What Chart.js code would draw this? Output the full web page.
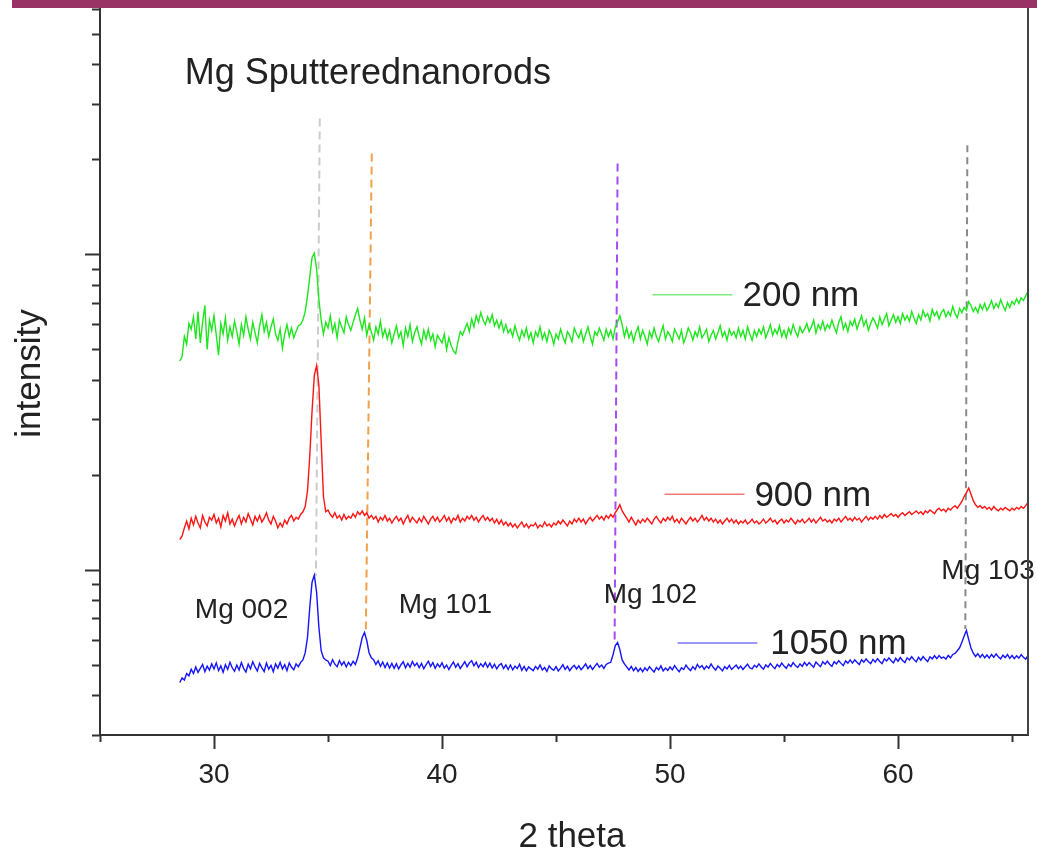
<!DOCTYPE html>
<html>
<head>
<meta charset="utf-8">
<script src="https://cdn.jsdelivr.net/npm/chart.js@4.4.0/dist/chart.umd.min.js"></script>
<style>
  html, body { margin:0; padding:0; background:#fff; }
  #wrap { position:relative; width:1037px; height:852px; }
  #bar { position:absolute; left:12px; top:0; width:1025px; height:8px; background:#993366; }
  canvas { position:absolute; left:0; top:0; }
</style>
</head>
<body>
<div id="wrap"><canvas id="c" width="1037" height="852"></canvas><div id="bar"></div></div>
<script>
// 2 theta sampling grid, 28.5 .. 65.8 in 0.1 steps
const theta = Array.from({length: 374}, (_, i) => (285 + i) / 10);

// intensity, 200 nm film
const green200 = [
  46.0, 47.5, 55.0, 52.0, 60.5,
  58.0, 63.5, 54.0, 66.0, 52.5, 61.0, 69.0, 50.0, 62.0, 57.5,
  64.0, 55.5, 48.0, 60.5, 56.0, 63.0, 53.5, 59.0, 55.0, 61.5,
  57.0, 52.0, 60.0, 55.5, 63.5, 58.0, 54.0, 61.0, 56.5, 52.5,
  59.5, 64.5, 57.0, 61.0, 55.0, 59.0, 62.5, 56.0, 53.5, 58.0,
  50.5, 56.0, 60.0, 55.0, 58.5, 54.5, 57.0, 59.5, 60.0, 62.0,
  66.0, 74.0, 85.0, 98.0, 101.0, 90.0, 72.0, 62.0, 56.0, 61.0,
  58.5, 64.0, 57.0, 60.5, 54.5, 62.0, 59.0, 56.5, 63.5, 60.0,
  57.5, 61.0, 64.5, 67.5, 62.0, 58.0, 63.0, 55.5, 60.0, 57.0,
  53.5, 59.0, 56.0, 61.5, 55.0, 58.0, 54.0, 57.5, 52.5, 56.0,
  59.5, 54.5, 57.0, 51.5, 58.5, 55.0, 60.0, 53.0, 56.5, 59.0,
  55.0, 52.0, 57.5, 54.0, 58.0, 53.5, 56.0, 51.0, 55.5, 54.0,
  52.5, 56.0, 50.0, 54.5, 51.5, 49.5, 48.5, 53.0, 57.0, 55.5,
  58.0, 60.5, 57.0, 62.5, 59.0, 64.0, 61.0, 65.5, 62.0, 60.0,
  63.5, 61.0, 64.5, 59.5, 62.0, 58.5, 61.5, 57.0, 60.0, 56.5,
  58.0, 55.0, 59.5, 56.0, 53.5, 57.5, 55.0, 58.5, 54.0, 56.5,
  52.5, 57.0, 55.0, 59.0, 54.0, 56.5, 53.0, 57.5, 55.5, 52.0,
  56.0, 54.0, 58.0, 55.0, 52.5, 57.0, 55.5, 53.0, 58.5, 56.0,
  54.5, 57.5, 53.0, 56.0, 59.0, 55.0, 52.0, 57.0, 55.5, 58.5,
  56.0, 53.5, 58.0, 55.0, 57.5, 54.0, 59.0, 61.0, 64.0, 60.0,
  55.0, 58.5, 54.5, 57.0, 53.0, 56.5, 59.0, 54.0, 57.5, 55.0,
  52.0, 57.0, 54.5, 58.5, 55.0, 53.0, 56.5, 59.5, 54.0, 57.0,
  55.5, 53.0, 58.0, 56.0, 54.0, 57.5, 52.5, 55.0, 58.5, 56.5,
  53.5, 57.0, 55.0, 59.0, 54.5, 56.0, 58.0, 53.0, 55.5, 57.5,
  54.0, 56.5, 59.5, 55.0, 57.0, 53.5, 58.0, 55.5, 57.0, 54.5,
  58.5, 55.0, 57.5, 54.0, 59.0, 56.0, 53.5, 57.5, 55.0, 58.0,
  56.0, 59.0, 54.5, 57.0, 60.0, 55.5, 58.0, 56.0, 59.5, 55.0,
  57.5, 54.5, 58.5, 56.0, 60.0, 57.0, 55.0, 59.0, 56.5, 58.0,
  60.5, 57.0, 59.0, 62.0, 56.5, 60.0, 58.0, 61.5, 57.5, 60.0,
  58.5, 62.0, 59.0, 56.5, 61.0, 63.5, 58.0, 60.5, 57.0, 61.5,
  59.5, 62.5, 58.0, 61.0, 64.0, 59.5, 62.0, 57.5, 60.5, 63.0,
  61.0, 58.5, 63.5, 60.0, 62.5, 65.0, 59.5, 62.0, 64.5, 61.0,
  63.5, 60.5, 65.0, 62.0, 64.0, 61.5, 66.0, 63.0, 60.5, 64.5,
  62.0, 66.5, 63.5, 65.0, 61.5, 67.0, 64.0, 66.0, 62.5, 65.5,
  67.0, 63.5, 66.0, 64.0, 68.5, 65.0, 63.0, 67.5, 65.5, 68.0,
  66.5, 71.0, 69.0, 66.0, 68.0, 65.5, 69.5, 67.0, 70.0, 66.5,
  68.5, 71.5, 67.5, 70.0, 68.0, 72.0, 69.0, 66.5, 70.5, 68.0,
  71.0, 69.5, 72.5, 70.0, 73.0, 71.5, 74.0, 76.5, 78.0
];

// intensity, 900 nm film
const red900 = [
  12.5, 12.8, 13.6, 14.3, 13.5,
  14.6, 13.9, 14.8, 14.1, 13.6, 14.9, 14.2, 13.8, 14.7, 14.4,
  15.0, 14.1, 14.6, 13.7, 14.9, 14.3, 15.2, 14.0, 14.5, 13.8,
  14.4, 14.9, 14.0, 14.7, 14.2, 15.1, 14.5, 13.9, 14.8, 14.3,
  14.9, 14.2, 14.6, 15.2, 14.4, 14.0, 14.8, 14.3, 13.6, 14.1,
  13.7, 14.4, 14.0, 14.6, 14.9, 14.3, 14.7, 14.5, 15.0, 15.3,
  15.9, 17.8, 23.0, 31.9, 41.4, 44.5, 38.5, 25.6, 17.1, 15.3,
  15.5, 15.0, 14.7, 15.2, 14.6, 14.9, 14.4, 15.0, 14.5, 14.8,
  14.6, 15.1, 14.7, 15.3, 15.0, 15.4, 14.9, 15.2, 14.6, 14.9,
  14.5, 14.8, 14.2, 14.7, 14.4, 14.9, 14.3, 14.6, 14.1, 14.5,
  14.8, 14.3, 14.6, 14.0, 14.5, 14.9, 14.2, 14.7, 14.4, 14.1,
  14.6, 14.2, 14.8, 14.4, 14.0, 14.5, 14.8, 14.3, 14.7, 14.2,
  14.5, 14.9, 14.3, 14.7, 14.1, 14.6, 14.4, 14.9, 14.2, 14.6,
  14.3, 14.8, 14.5, 14.9, 14.4, 14.7, 14.2, 14.6, 14.9, 14.4,
  14.7, 14.3, 14.6, 14.1, 14.5, 14.0, 14.4, 13.9, 14.2, 13.8,
  14.1, 13.7, 14.0, 13.6, 13.9, 14.2, 13.7, 14.0, 13.6, 13.9,
  13.8, 14.1, 13.6, 13.9, 13.7, 14.2, 13.8, 14.0, 13.7, 14.1,
  13.9, 14.3, 14.0, 14.4, 14.1, 13.8, 14.3, 14.0, 14.5, 14.2,
  14.6, 14.2, 14.5, 14.0, 14.4, 14.7, 14.3, 14.6, 14.9, 14.5,
  14.8, 14.4, 14.9, 14.6, 15.0, 14.7, 15.2, 15.6, 16.1, 15.4,
  15.0, 14.6, 14.2, 14.7, 14.3, 13.9, 14.4, 14.1, 14.5, 14.2,
  14.6, 14.3, 14.0, 14.5, 14.8, 14.4, 14.1, 14.6, 14.3, 14.7,
  14.4, 14.8, 14.2, 14.5, 14.1, 14.6, 14.3, 14.0, 14.4, 14.7,
  14.3, 14.6, 14.2, 14.5, 14.9, 14.4, 14.7, 14.3, 14.6, 14.2,
  14.5, 14.1, 14.4, 14.0, 14.3, 14.6, 14.2, 14.5, 14.1, 14.4,
  14.0, 14.3, 14.1, 14.4, 14.0, 14.2, 14.5, 14.1, 14.3, 14.0,
  14.2, 14.5, 14.1, 14.3, 14.6, 14.2, 14.4, 14.0, 14.3, 14.5,
  14.1, 14.4, 14.2, 14.6, 14.3, 14.0, 14.4, 14.2, 14.5, 14.1,
  14.3, 14.6, 14.2, 14.5, 14.1, 14.4, 14.7, 14.3, 14.5, 14.2,
  14.4, 14.1, 14.5, 14.3, 14.6, 14.2, 14.5, 14.8, 14.4, 14.6,
  14.3, 14.7, 14.4, 14.6, 14.2, 14.5, 14.8, 14.4, 14.7, 14.5,
  14.8, 14.5, 14.9, 14.6, 15.0, 14.7, 14.9, 15.1, 14.8, 15.0,
  14.7, 15.0, 15.2, 14.9, 15.1, 15.3, 15.0, 15.2, 15.4, 15.1,
  15.3, 15.0, 15.4, 15.2, 15.5, 15.3, 15.1, 15.5, 15.7, 15.4,
  15.6, 15.3, 15.7, 15.5, 15.8, 16.0, 15.7, 16.1, 16.5, 17.1,
  17.6, 18.2, 17.4, 16.6, 16.1, 15.8, 16.0, 15.7, 15.9, 15.6,
  15.8, 15.5, 15.9, 15.6, 15.4, 15.7, 15.5, 15.8, 15.6, 15.4,
  15.7, 15.5, 15.8, 15.6, 15.9, 15.7, 16.0, 16.4, 16.9
];

// intensity, 1050 nm film
const blue1050 = [
  4.40, 4.55, 4.48, 4.70, 4.62,
  4.85, 4.70, 4.93, 4.74, 4.88, 5.02, 4.76, 4.96, 4.82, 5.04,
  4.86, 5.08, 4.80, 4.97, 4.74, 5.01, 4.84, 5.10, 4.90, 4.78,
  5.00, 4.82, 5.09, 4.88, 4.75, 5.03, 4.86, 5.12, 4.93, 4.79,
  5.06, 4.90, 4.77, 5.07, 4.85, 4.99, 4.76, 5.04, 4.88, 5.10,
  4.86, 5.01, 4.80, 5.08, 4.92, 4.83, 5.04, 4.94, 5.10, 5.19,
  5.47, 6.11, 7.62, 9.15, 9.64, 8.50, 6.58, 5.55, 5.27, 5.19,
  5.14, 4.98, 5.20, 5.03, 4.94, 5.17, 5.00, 5.12, 4.93, 5.10,
  4.98, 5.14, 5.02, 5.27, 5.67, 6.11, 6.34, 5.98, 5.47, 5.27,
  5.20, 5.02, 5.16, 4.95, 5.11, 4.91, 5.08, 4.89, 5.06, 4.88,
  5.05, 4.86, 5.01, 5.12, 4.90, 5.06, 4.92, 5.13, 4.97, 5.07,
  4.90, 5.06, 4.87, 5.01, 5.14, 4.95, 5.09, 4.88, 5.04, 4.93,
  5.08, 4.89, 5.00, 4.84, 4.99, 5.11, 4.92, 5.05, 4.87, 5.00,
  5.12, 4.94, 5.08, 5.16, 4.97, 5.10, 4.91, 5.05, 4.94, 5.09,
  4.92, 5.07, 4.89, 5.03, 4.86, 4.99, 5.05, 4.87, 5.00, 4.84,
  5.00, 4.83, 4.96, 4.87, 5.03, 4.81, 4.95, 4.79, 4.93, 4.86,
  4.80, 4.95, 4.85, 5.00, 4.82, 4.91, 4.77, 4.97, 4.87, 4.81,
  4.94, 4.79, 4.89, 5.01, 4.84, 4.95, 4.80, 4.91, 4.99, 4.86,
  4.97, 4.83, 4.93, 5.04, 4.87, 4.98, 4.84, 4.95, 5.06, 4.92,
  5.00, 4.88, 5.02, 5.07, 5.10, 5.39, 5.76, 5.89, 5.59, 5.19,
  5.04, 4.93, 4.82, 4.95, 4.80, 4.91, 4.77, 4.88, 4.76, 4.90,
  4.80, 4.94, 4.84, 4.75, 4.91, 4.83, 4.97, 4.79, 4.89, 4.81,
  4.93, 4.83, 4.98, 4.86, 4.76, 4.90, 4.84, 5.00, 4.88, 4.80,
  4.94, 4.84, 5.02, 4.90, 4.98, 4.85, 4.96, 4.88, 5.04, 4.91,
  4.82, 4.96, 4.88, 4.79, 4.94, 4.86, 4.99, 4.84, 4.92, 5.00,
  4.87, 4.96, 4.84, 4.94, 5.03, 4.90, 4.86, 4.99, 4.92, 5.04,
  4.93, 4.85, 5.00, 4.92, 5.06, 4.95, 4.87, 5.02, 4.93, 5.07,
  4.96, 4.88, 5.03, 4.94, 5.09, 4.98, 4.91, 5.04, 4.95, 5.10,
  4.98, 5.09, 5.00, 4.92, 5.11, 5.02, 4.94, 5.12, 5.03, 5.14,
  5.03, 4.95, 5.12, 5.04, 5.16, 5.06, 4.98, 5.15, 5.07, 5.19,
  5.07, 5.19, 5.10, 5.02, 5.20, 5.11, 5.23, 5.12, 5.05, 5.21,
  5.11, 5.24, 5.13, 5.05, 5.23, 5.15, 5.27, 5.16, 5.08, 5.25,
  5.14, 5.28, 5.17, 5.09, 5.27, 5.19, 5.31, 5.20, 5.12, 5.29,
  5.18, 5.32, 5.21, 5.13, 5.31, 5.23, 5.35, 5.24, 5.36, 5.26,
  5.30, 5.22, 5.36, 5.27, 5.40, 5.44, 5.55, 5.67, 5.90, 6.18,
  6.43, 6.02, 5.66, 5.45, 5.32, 5.43, 5.29, 5.40, 5.27, 5.38,
  5.26, 5.40, 5.29, 5.42, 5.31, 5.23, 5.37, 5.28, 5.40, 5.25,
  5.36, 5.24, 5.35, 5.26, 5.39, 5.29, 5.22, 5.36, 5.30
];

const seriesNames = ['200 nm', '900 nm', '1050 nm'];
const seriesColors = ['#1ee61e', '#ff1414', '#1414ff'];
const legendColors = ['#7fea7f', '#f07a7a', '#7a7af5'];

// dashed reference lines for the Mg reflections (2 theta, intensity at both ends)
const peakNames = ['Mg 002', 'Mg 101', 'Mg 102', 'Mg 103'];
const refThetaTop = [34.64, 36.92, 47.70, 63.04];
const refThetaBottom = [34.47, 36.66, 47.57, 62.95];
const refTop = [270, 209, 194.5, 222];
const refBottom = [9.57, 6.50, 5.95, 6.50];
const refColors = ['#cccccc', '#f2a04a', '#a64cf5', '#8a8a8a'];

const xMajor = [30, 40, 50, 60];
const xMinor = [25, 35, 45, 55, 65];
const yMajor = [10, 100];
const yMinor = [3, 4, 5, 6, 7, 8, 9, 20, 30, 40, 50, 60, 70, 80, 90, 200, 300, 400, 500, 600];

const FONT = '"Liberation Sans", Arial, sans-serif';
const XMIN = 25, XMAX = 65.7, YMIN = 3, YMAX = 605;

const datasets = [];
[green200, red900, blue1050].forEach((vals, k) => {
  datasets.push({
    label: seriesNames[k],
    data: theta.map((t, i) => ({x: t, y: vals[i]})),
    borderColor: seriesColors[k], borderWidth: 1.4, pointRadius: 0, order: 0
  });
});
peakNames.forEach((n, k) => {
  datasets.push({
    label: n,
    data: [{x: refThetaTop[k], y: refTop[k]}, {x: refThetaBottom[k], y: refBottom[k]}],
    borderColor: refColors[k], borderWidth: 2, borderDash: k === 3 ? [7, 5] : [8, 5],
    pointRadius: 0, order: 1
  });
});

// free texts placed in data space (2 theta, intensity)
const titlePos = {x: 28.72, y: 347};
const peakLabelPos = [[29.16, 7.04], [38.10, 7.30], [47.09, 7.86], [61.90, 9.36]];
const legendPos = [
  {x1: 49.23, x2: 52.74, y: 74.6, tx: 53.18, ty: 68.9},
  {x1: 49.76, x2: 53.27, y: 17.4, tx: 53.70, ty: 16.0},
  {x1: 50.33, x2: 53.83, y: 5.87, tx: 54.40, ty: 5.41}
];

const texts = {
  id: 'texts',
  afterDatasetsDraw(chart) {
    const {ctx, chartArea: a, scales: {x, y}} = chart;
    const px = v => x.getPixelForValue(v), py = v => y.getPixelForValue(v);
    ctx.save();
    ctx.fillStyle = '#222';
    ctx.textAlign = 'left';
    ctx.textBaseline = 'alphabetic';
    ctx.font = '36px ' + FONT;
    ctx.fillText('Mg Sputterednanorods', px(titlePos.x), py(titlePos.y));

    ctx.font = '35px ' + FONT;
    legendPos.forEach((p, k) => {
      ctx.strokeStyle = legendColors[k];
      ctx.lineWidth = 1.5;
      ctx.beginPath();
      ctx.moveTo(px(p.x1), py(p.y));
      ctx.lineTo(px(p.x2), py(p.y));
      ctx.stroke();
      ctx.fillText(seriesNames[k], px(p.tx), py(p.ty));
    });

    ctx.font = '28px ' + FONT;
    peakNames.forEach((n, k) => ctx.fillText(n, px(peakLabelPos[k][0]), py(peakLabelPos[k][1])));

    // right frame line
    ctx.strokeStyle = '#444';
    ctx.lineWidth = 2;
    ctx.beginPath();
    ctx.moveTo(a.right, a.top);
    ctx.lineTo(a.right, a.bottom);
    ctx.stroke();

    // axis titles
    ctx.font = '35px ' + FONT;
    ctx.textAlign = 'center';
    ctx.fillText('2 theta', px(45.7), chart.height - 5);
    ctx.translate(30, (a.top + a.bottom) / 2 + 2);
    ctx.rotate(-Math.PI / 2);
    ctx.textBaseline = 'middle';
    ctx.fillText('intensity', 0, 0);
    ctx.restore();
  }
};

const tickGrid = len => ({drawOnChartArea: false, drawTicks: true, tickLength: len, tickWidth: 2, tickColor: '#333'});

new Chart(document.getElementById('c'), {
  type: 'line',
  data: {datasets},
  options: {
    responsive: false,
    animation: false,
    layout: {padding: {top: 8, right: 9, left: 0, bottom: 0}},
    elements: {line: {tension: 0}},
    plugins: {legend: {display: false}, tooltip: {enabled: false}},
    scales: {
      x: {
        type: 'linear', position: 'bottom', weight: 1, min: XMIN, max: XMAX,
        afterBuildTicks: s => { s.ticks = xMajor.map(v => ({value: v})); },
        afterFit: s => { s.height = 117; },
        ticks: {color: '#222', font: {family: FONT, size: 28}, padding: 9},
        grid: tickGrid(14),
        border: {display: true, color: '#333', width: 2}
      },
      x2: {
        type: 'linear', position: 'bottom', weight: 0, min: XMIN, max: XMAX,
        afterBuildTicks: s => { s.ticks = xMinor.map(v => ({value: v})); },
        afterFit: s => { s.height = 0; },
        ticks: {display: false},
        grid: tickGrid(7),
        border: {display: false}
      },
      y: {
        type: 'logarithmic', position: 'left', weight: 1, min: YMIN, max: YMAX,
        afterBuildTicks: s => { s.ticks = yMajor.map(v => ({value: v})); },
        afterFit: s => { s.width = 100; },
        ticks: {display: false},
        grid: tickGrid(15),
        border: {display: true, color: '#333', width: 2}
      },
      y2: {
        type: 'logarithmic', position: 'left', weight: 0, min: YMIN, max: YMAX,
        afterBuildTicks: s => { s.ticks = yMinor.map(v => ({value: v})); },
        afterFit: s => { s.width = 0; },
        ticks: {display: false},
        grid: tickGrid(8),
        border: {display: false}
      }
    }
  },
  plugins: [texts]
});
</script>
</body>
</html>
